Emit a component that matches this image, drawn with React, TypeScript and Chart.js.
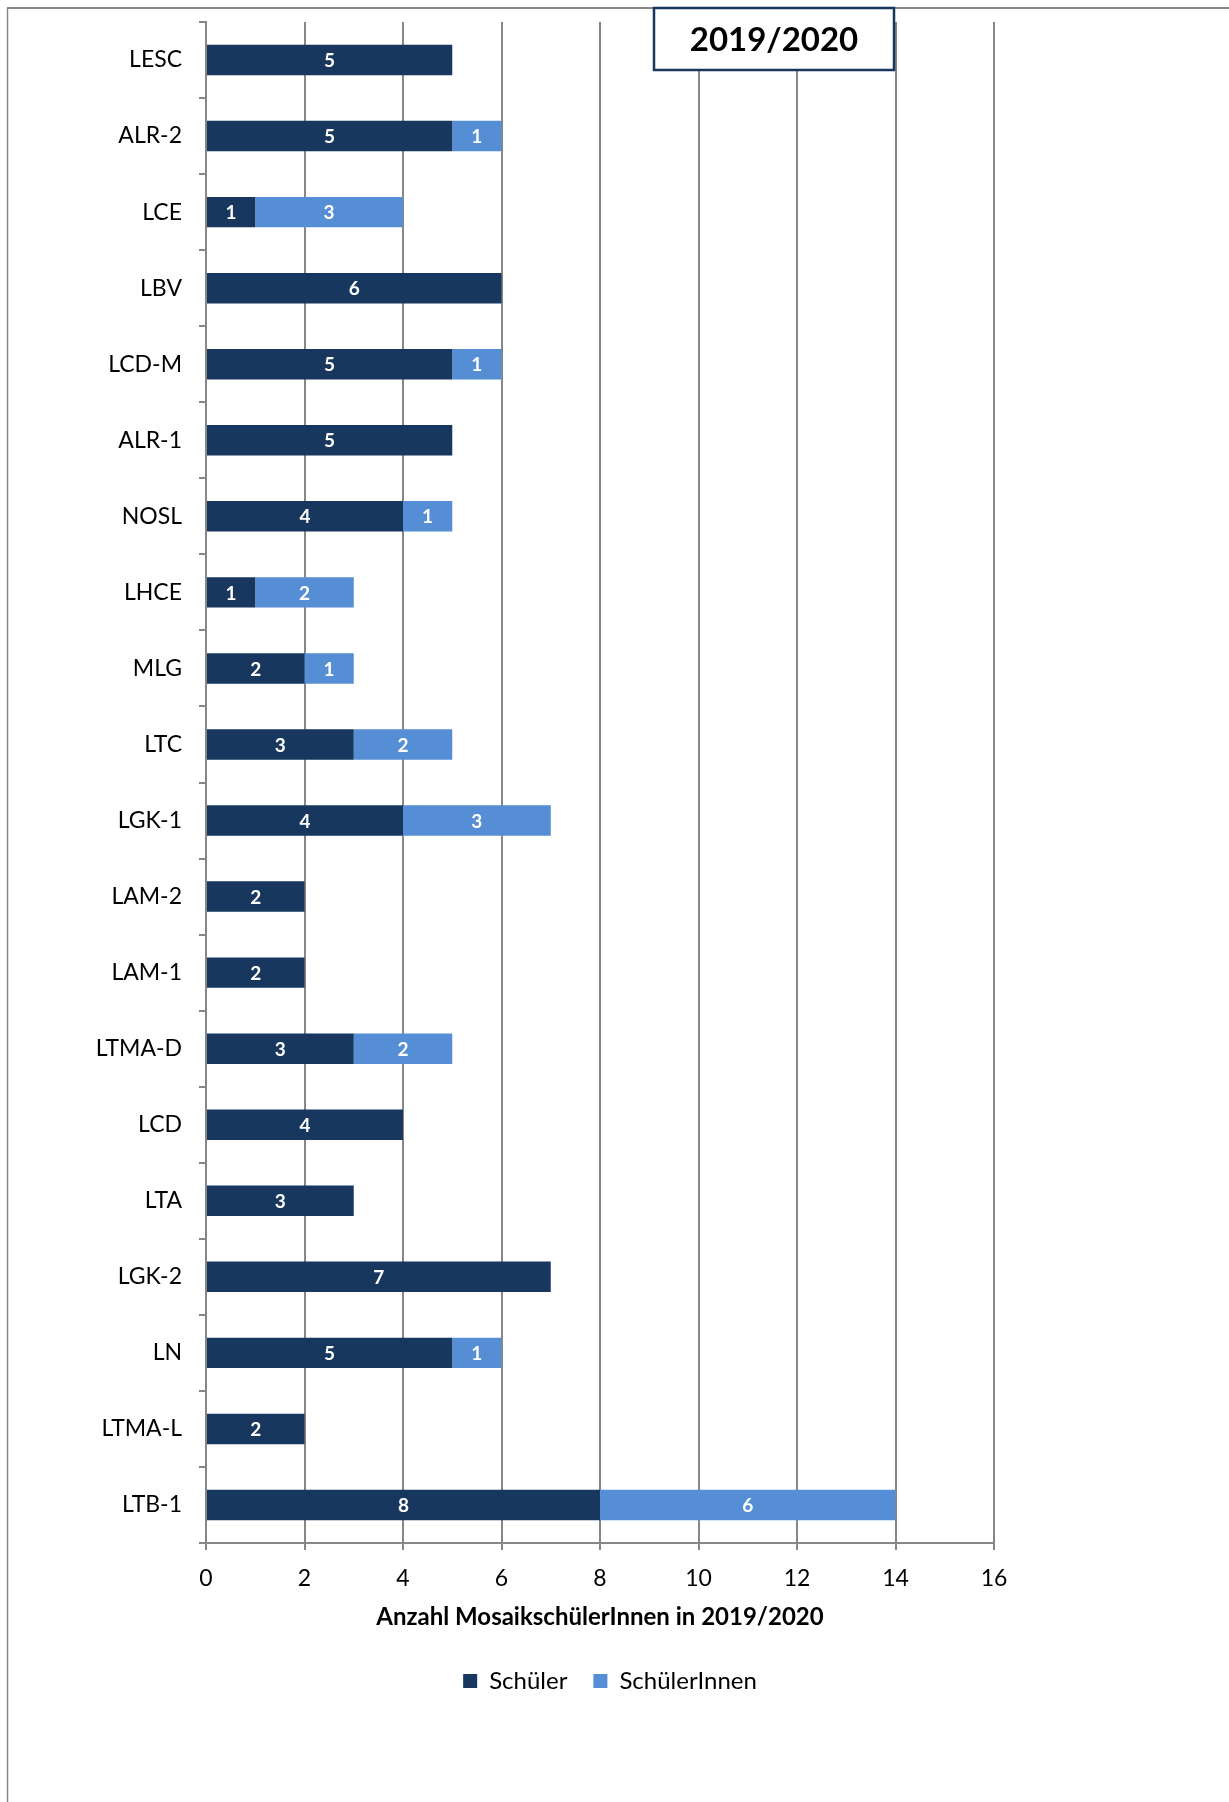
import React, { useEffect, useRef } from "react";
import { Chart, registerables } from "chart.js";

Chart.register(...registerables);

const categories = [
  "LESC", "ALR-2", "LCE", "LBV", "LCD-M", "ALR-1", "NOSL", "LHCE", "MLG", "LTC",
  "LGK-1", "LAM-2", "LAM-1", "LTMA-D", "LCD", "LTA", "LGK-2", "LN", "LTMA-L", "LTB-1",
];
const schueler = [5, 5, 1, 6, 5, 5, 4, 1, 2, 3, 4, 2, 2, 3, 4, 3, 7, 5, 2, 8];
const schuelerInnen = [null, 1, 3, null, 1, null, 1, 2, 1, 2, 3, null, null, 2, null, null, null, 1, null, 6];
const seriesNames = ["Schüler", "SchülerInnen"];
const xTicks = [0, 2, 4, 6, 8, 10, 12, 14, 16];
const chartTitle = "2019/2020";
const xAxisTitle = "Anzahl MosaikschülerInnen in 2019/2020";

const DARK = "#17375E";
const LIGHT = "#558ED5";
const GRID = "#878787";
const FONT = "Lato, 'Open Sans', sans-serif";

const framePlugin = {
  id: "frame",
  beforeDraw(chart: any) {
    const { ctx, width, height } = chart;
    ctx.save();
    ctx.fillStyle = "#ffffff";
    ctx.fillRect(0, 0, width, height);
    ctx.strokeStyle = GRID;
    ctx.lineWidth = 2;
    ctx.beginPath();
    ctx.moveTo(7, 8);
    ctx.lineTo(width, 8);
    ctx.stroke();
    ctx.lineWidth = 1.5;
    ctx.beginPath();
    ctx.moveTo(7.5, 8);
    ctx.lineTo(7.5, height);
    ctx.stroke();
    ctx.restore();
  },
};

const legendShiftPlugin = {
  id: "legendShift",
  afterLayout(chart: any) {
    const lg = chart.legend;
    if (lg) {
      lg.left += 10;
      lg.right += 10;
    }
  },
};

const labelsPlugin = {
  id: "barLabels",
  afterDatasetsDraw(chart: any) {
    const { ctx } = chart;
    ctx.save();
    ctx.fillStyle = "#ffffff";
    ctx.font = `bold 19px ${FONT}`;
    ctx.textAlign = "center";
    ctx.textBaseline = "middle";
    chart.data.datasets.forEach((ds: any, di: number) => {
      const meta = chart.getDatasetMeta(di);
      meta.data.forEach((el: any, i: number) => {
        const v = ds.data[i];
        if (v === null || v === undefined || v === 0) return;
        const { x, y, base } = el.getProps(["x", "y", "base"], true);
        ctx.fillText(String(v), (x + base) / 2, y + 1);
      });
    });
    ctx.restore();
  },
};

const titleBoxPlugin = {
  id: "titleBox",
  afterDraw(chart: any) {
    const { ctx } = chart;
    const left = 654;
    const right = 894;
    const top = 8;
    const bottom = 70;
    ctx.save();
    ctx.fillStyle = "#ffffff";
    ctx.fillRect(left, top, right - left, bottom - top);
    ctx.strokeStyle = DARK;
    ctx.lineWidth = 2.5;
    ctx.strokeRect(left, top, right - left, bottom - top);
    ctx.fillStyle = "#000000";
    ctx.font = `bold 33px ${FONT}`;
    ctx.textAlign = "center";
    ctx.textBaseline = "middle";
    ctx.fillText(chartTitle, (left + right) / 2, (top + bottom) / 2 + 1);
    ctx.restore();
  },
};

export default function App() {
  const ref = useRef<HTMLCanvasElement | null>(null);

  useEffect(() => {
    if (!ref.current) return;
    const chart = new Chart(ref.current, {
      type: "bar",
      data: {
        labels: categories,
        datasets: [
          {
            label: seriesNames[0],
            data: schueler,
            backgroundColor: DARK,
            borderWidth: 0,
            barPercentage: 0.4,
            categoryPercentage: 1,
          },
          {
            label: seriesNames[1],
            data: schuelerInnen,
            backgroundColor: LIGHT,
            borderWidth: 0,
            barPercentage: 0.4,
            categoryPercentage: 1,
          },
        ],
      },
      options: {
        indexAxis: "y",
        animation: false,
        responsive: false,
        devicePixelRatio: 1,
        layout: { padding: { top: 22, left: 0, right: 235, bottom: 99 } },
        scales: {
          x: {
            stacked: true,
            min: 0,
            max: 16,
            afterBuildTicks(scale: any) {
              scale.ticks = xTicks.map((v) => ({ value: v }));
            },
            afterFit(scale: any) {
              scale.height = 100;
            },
            grid: {
              display: true,
              drawOnChartArea: true,
              drawTicks: true,
              tickLength: 7,
              color: GRID,
              lineWidth: 2,
            },
            border: { display: true, color: GRID, width: 2 },
            ticks: {
              color: "#000000",
              font: { family: FONT, size: 23 },
              padding: 15,
              maxRotation: 0,
            },
            title: {
              display: true,
              text: xAxisTitle,
              color: "#000000",
              font: { family: FONT, size: 24, weight: "bold" },
              padding: { top: 0, bottom: 11 },
            },
          },
          y: {
            stacked: true,
            afterFit(scale: any) {
              scale.width = 206;
              scale.paddingTop = 0;
              scale.paddingBottom = 0;
            },
            grid: {
              display: true,
              drawOnChartArea: false,
              drawTicks: true,
              tickLength: 7,
              color: GRID,
              lineWidth: 2,
              offset: true,
            },
            border: { display: true, color: GRID, width: 2 },
            ticks: {
              color: "#000000",
              font: { family: FONT, size: 23 },
              padding: 17,
            },
          },
        },
        plugins: {
          legend: {
            display: true,
            position: "bottom",
            fullSize: false,
            labels: {
              color: "#000000",
              font: { family: FONT, size: 24 },
              boxWidth: 14,
              boxHeight: 14,
              padding: 26,
            },
          },
          tooltip: { enabled: false },
        },
      },
      plugins: [framePlugin, legendShiftPlugin, labelsPlugin, titleBoxPlugin],
    } as any);
    return () => chart.destroy();
  }, []);

  return (
    <div style={{ position: "absolute", left: 0, top: 0, width: 1229, height: 1802 }}>
      <canvas ref={ref} width={1229} height={1802} style={{ display: "block", width: 1229, height: 1802 }} />
    </div>
  );
}
